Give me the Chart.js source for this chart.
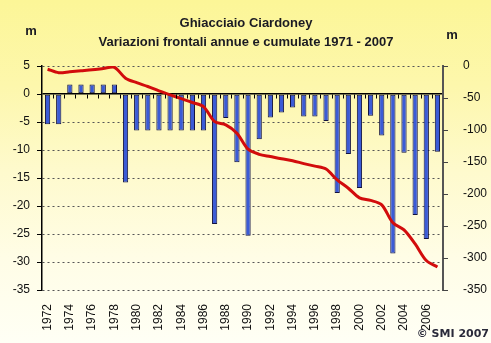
<!DOCTYPE html>
<html>
<head>
<meta charset="utf-8">
<script src="https://cdn.jsdelivr.net/npm/chart.js@4"></script>
<style>
  html, body { margin: 0; padding: 0; }
  body { width: 491px; height: 343px; overflow: hidden;
    background: linear-gradient(to bottom, #fcf697 0%, #fdf7ac 25%, #fefacd 50%, #fffde6 75%, #fffff5 100%); }
  canvas { display: block; }
</style>
</head>
<body>
<canvas id="c" width="491" height="343"></canvas>
<script>
// ---- data ----
const years = [1972,1973,1974,1975,1976,1977,1978,1979,1980,1981,1982,1983,1984,1985,1986,1987,1988,1989,1990,1991,1992,1993,1994,1995,1996,1997,1998,1999,2000,2001,2002,2003,2004,2005,2006,2007];
const annualChange = [-5.4,-5.4,1.7,1.7,1.7,1.7,1.7,-15.8,-6.5,-6.5,-6.5,-6.5,-6.5,-6.5,-6.5,-23.2,-4.3,-12.2,-25.3,-8.1,-4.2,-3.3,-2.4,-4.0,-4.0,-4.8,-17.7,-10.7,-16.8,-3.9,-7.4,-28.5,-10.5,-21.6,-25.9,-10.3];
const cumulativeChange = [-5,-10.5,-9,-7.5,-6,-4,-2,-19,-26,-32,-39,-45,-51,-57,-63.5,-87,-92,-105,-130,-138,-141.5,-145,-148,-152.5,-156.5,-161,-178,-191,-206,-210,-217,-245,-256,-278,-304,-314];
const leftTicks = [5,0,-5,-10,-15,-20,-25,-30,-35];
const rightTicks = [0,-50,-100,-150,-200,-250,-300,-350];
const titleLines = ['Ghiacciaio Ciardoney', 'Variazioni frontali annue e cumulate 1971 - 2007'];
const unitLabel = 'm';
const creditText = '\u00A9 SMI 2007';

Chart.defaults.font.family = '"Liberation Sans", Arial, sans-serif';
Chart.defaults.font.size = 12;
Chart.defaults.color = '#111';

function drawMarks(chart) {
  const ctx = chart.ctx;
  const a = chart.chartArea;
  const x = chart.scales.x, y = chart.scales.y, y1 = chart.scales.y1;
  ctx.save();
  ctx.setLineDash([]);
  ctx.strokeStyle = '#000'; ctx.lineWidth = 1;
  leftTicks.forEach(v => {
    const py = Math.round(y.getPixelForValue(v)) + 0.5;
    ctx.beginPath(); ctx.moveTo(a.left - 5, py); ctx.lineTo(a.left, py); ctx.stroke();
  });
  ctx.strokeStyle = '#444';
  rightTicks.forEach(v => {
    const py = Math.round(y1.getPixelForValue(v)) + 0.5;
    ctx.beginPath(); ctx.moveTo(a.right, py); ctx.lineTo(a.right + 5, py); ctx.stroke();
  });
  const z = Math.round(y.getPixelForValue(0)) + 0.5;
  const step = (x.right - x.left) / years.length;
  ctx.strokeStyle = '#000';
  for (let k = 1; k < years.length; k++) {
    const px = Math.round(x.left + k * step) + 0.5;
    ctx.beginPath(); ctx.moveTo(px, z); ctx.lineTo(px, z + 4); ctx.stroke();
  }
  ctx.restore();
}

const deco = {
  id: 'deco',
  afterDatasetsDraw(chart) { drawMarks(chart); },
  afterDraw(chart) {
    const {ctx} = chart;
    ctx.save();
    ctx.fillStyle = '#1a1a22';
    ctx.textAlign = 'center';
    ctx.textBaseline = 'middle';
    ctx.font = 'bold 13px "Liberation Sans", Arial, sans-serif';
    ctx.fillText(titleLines[0], 246, 23);
    ctx.fillText(titleLines[1], 246, 42);
    ctx.fillText(unitLabel, 31, 31);
    ctx.fillText(unitLabel, 452, 35);
    ctx.font = 'bold 11px "DejaVu Sans", Verdana, sans-serif';
    ctx.fillStyle = '#2a2a3a';
    ctx.textAlign = 'right';
    ctx.fillText(creditText, 489, 334);
    ctx.restore();
  }
};

new Chart(document.getElementById('c'), {
  type: 'bar',
  data: {
    labels: years.map(String),
    datasets: [
      {
        type: 'line',
        label: 'cumulate',
        data: cumulativeChange,
        yAxisID: 'y1',
        borderColor: '#d20c0c',
        borderWidth: 3,
        pointRadius: 0,
        tension: 0.3,
        fill: false,
        order: 0
      },
      {
        type: 'bar',
        label: 'annue',
        data: annualChange,
        yAxisID: 'y',
        backgroundColor: '#3b5bd6',
        borderColor: '#121240',
        borderWidth: 1,
        borderSkipped: false,
        categoryPercentage: 1,
        barPercentage: 0.47,
        order: 1
      }
    ]
  },
  options: {
    responsive: false,
    animation: false,
    devicePixelRatio: 1,
    layout: { padding: { top: 66, left: 0, right: 0, bottom: 0 } },
    plugins: { legend: { display: false }, title: { display: false }, tooltip: { enabled: false } },
    scales: {
      x: {
        grid: { display: false },
        border: { display: false },
        afterFit(s) { s.height = 53; },
        ticks: {
          autoSkip: false,
          minRotation: 90,
          maxRotation: 90,
          padding: 6,
          font: { size: 12 },
          callback(v, i) { return i % 2 === 0 ? years[i] : ''; }
        }
      },
      y: {
        position: 'left',
        min: -35, max: 5,
        afterFit(s) { s.width = 42; },
        afterBuildTicks(s) { s.ticks = leftTicks.map(v => ({value: v})); },
        grid: {
          display: true,
          drawTicks: false,
          color: ctx => (ctx.tick && ctx.tick.value === 0) ? '#000000' : '#555555',
          lineWidth: ctx => (ctx.tick && ctx.tick.value === 0) ? 1.5 : 1
        },
        border: {
          display: true, color: '#000', width: 1.5,
          dash: ctx => (ctx.tick && ctx.tick.value !== 0) ? [2, 3] : []
        },
        ticks: { padding: 12, font: { size: 12 } }
      },
      y1: {
        position: 'right',
        min: -350, max: 0,
        afterFit(s) { s.width = 48; },
        afterBuildTicks(s) { s.ticks = rightTicks.map(v => ({value: v})); },
        grid: { display: false },
        border: { display: true, color: '#555', width: 2 },
        ticks: { padding: 12, font: { size: 12 } }
      }
    }
  },
  plugins: [deco]
});
</script>
</body>
</html>
